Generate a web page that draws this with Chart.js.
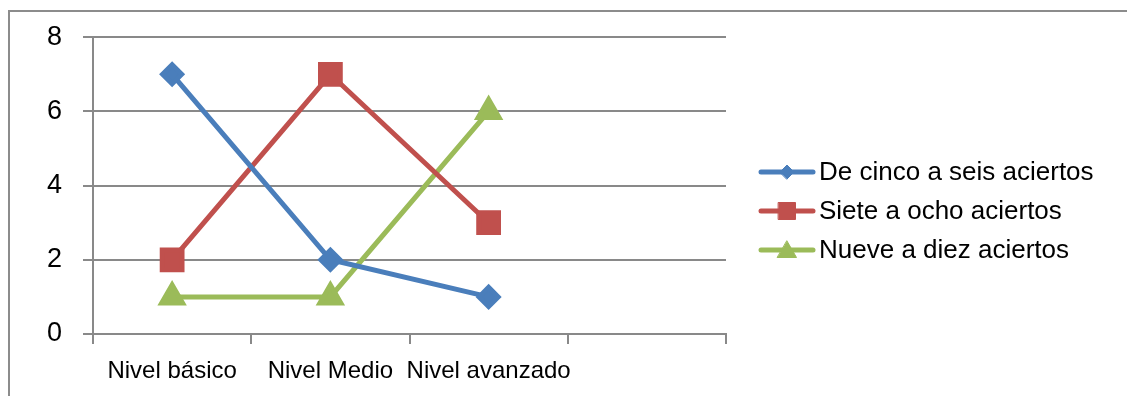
<!DOCTYPE html>
<html>
<head>
<meta charset="utf-8">
<script src="https://cdn.jsdelivr.net/npm/chart.js@4/dist/chart.umd.min.js"></script>
<style>
  html, body { margin: 0; padding: 0; background: #ffffff; }
  #wrap { position: relative; width: 1127px; height: 396px; overflow: hidden; }
  #frame { position: absolute; left: 8px; top: 10px; width: 1200px; height: 500px;
           border-left: 2px solid #8c8c8c; border-top: 2px solid #8c8c8c; box-sizing: border-box; }
  canvas { position: absolute; left: 0; top: 0; }
</style>
</head>
<body>
<div id="wrap">
  <div id="frame"></div>
  <canvas id="c" width="1127" height="396"></canvas>
</div>
<script>
const categories = ["Nivel básico", "Nivel Medio", "Nivel avanzado", ""];
const seriesNames = ["De cinco a seis aciertos", "Siete a ocho aciertos", "Nueve a diez aciertos"];
const cincoSeis = [7, 2, 1, null];
const sieteOcho = [2, 7, 3, null];
const nueveDiez = [1, 1, 6, null];
const yTicks = [0, 2, 4, 6, 8];

const FONT = "'Liberation Sans', Arial, sans-serif";
const GRID = '#898989';

const legendPlugin = {
  id: 'lineLegend',
  afterDraw(chart) {
    const ctx = chart.ctx;
    const rows = [172, 211, 250];
    ctx.save();
    chart.data.datasets.forEach((ds, i) => {
      const y = rows[i];
      ctx.strokeStyle = ds.borderColor;
      ctx.lineWidth = 5;
      ctx.lineCap = 'round';
      ctx.beginPath();
      ctx.moveTo(761, y);
      ctx.lineTo(813, y);
      ctx.stroke();
      const opts = {
        pointStyle: ds.pointStyle,
        radius: ds.legendRadius,
        rotation: 0,
        borderWidth: 1
      };
      ctx.fillStyle = ds.backgroundColor;
      ctx.strokeStyle = ds.borderColor;
      ctx.lineWidth = 1;
      Chart.helpers.drawPoint(ctx, opts, 787, y + (ds.pointStyle === 'triangle' ? 2 : 0));
      ctx.fillStyle = '#000000';
      ctx.font = '26px ' + FONT;
      ctx.textAlign = 'left';
      ctx.textBaseline = 'middle';
      ctx.fillText(ds.label, 819, y + 1);
    });
    ctx.restore();
  }
};

new Chart(document.getElementById('c'), {
  type: 'line',
  data: {
    labels: categories,
    datasets: [
      { label: seriesNames[0], data: cincoSeis, borderColor: '#4a7ebb', backgroundColor: '#4a7ebb',
        pointStyle: 'rectRot', pointRadius: 9.5, legendRadius: 7, borderWidth: 5 },
      { label: seriesNames[1], data: sieteOcho, borderColor: '#c0504d', backgroundColor: '#c0504d',
        pointStyle: 'rect', pointRadius: 14, legendRadius: 12, borderWidth: 5 },
      { label: seriesNames[2], data: nueveDiez, borderColor: '#9bbb59', backgroundColor: '#9bbb59',
        pointStyle: 'triangle', pointRadius: 12, legendRadius: 11, borderWidth: 5 }
    ]
  },
  options: {
    responsive: false,
    animation: false,
    devicePixelRatio: 1,
    layout: { padding: { left: 0, right: 401, top: 37, bottom: 0 } },
    elements: { line: { tension: 0 }, point: { borderWidth: 1, hoverRadius: 10 } },
    plugins: { legend: { display: false }, tooltip: { enabled: false } },
    scales: {
      x: {
        type: 'category',
        offset: true,
        afterFit(scale) { scale.height = 62; },
        grid: { offset: true, drawOnChartArea: false, drawTicks: true, tickLength: 10, color: GRID, lineWidth: 2 },
        border: { color: GRID, width: 2 },
        ticks: { color: '#000000', font: { family: FONT, size: 24 }, padding: 13, maxRotation: 0, autoSkip: false }
      },
      y: {
        min: 0,
        max: 8,
        afterFit(scale) { scale.width = 93; },
        afterBuildTicks(scale) { scale.ticks = yTicks.map(v => ({ value: v })); },
        grid: { color: GRID, lineWidth: 2, tickLength: 10, drawTicks: true },
        border: { color: GRID, width: 2 },
        ticks: { color: '#000000', font: { family: FONT, size: 27 }, padding: 21 }
      }
    }
  },
  plugins: [legendPlugin]
});
</script>
</body>
</html>
